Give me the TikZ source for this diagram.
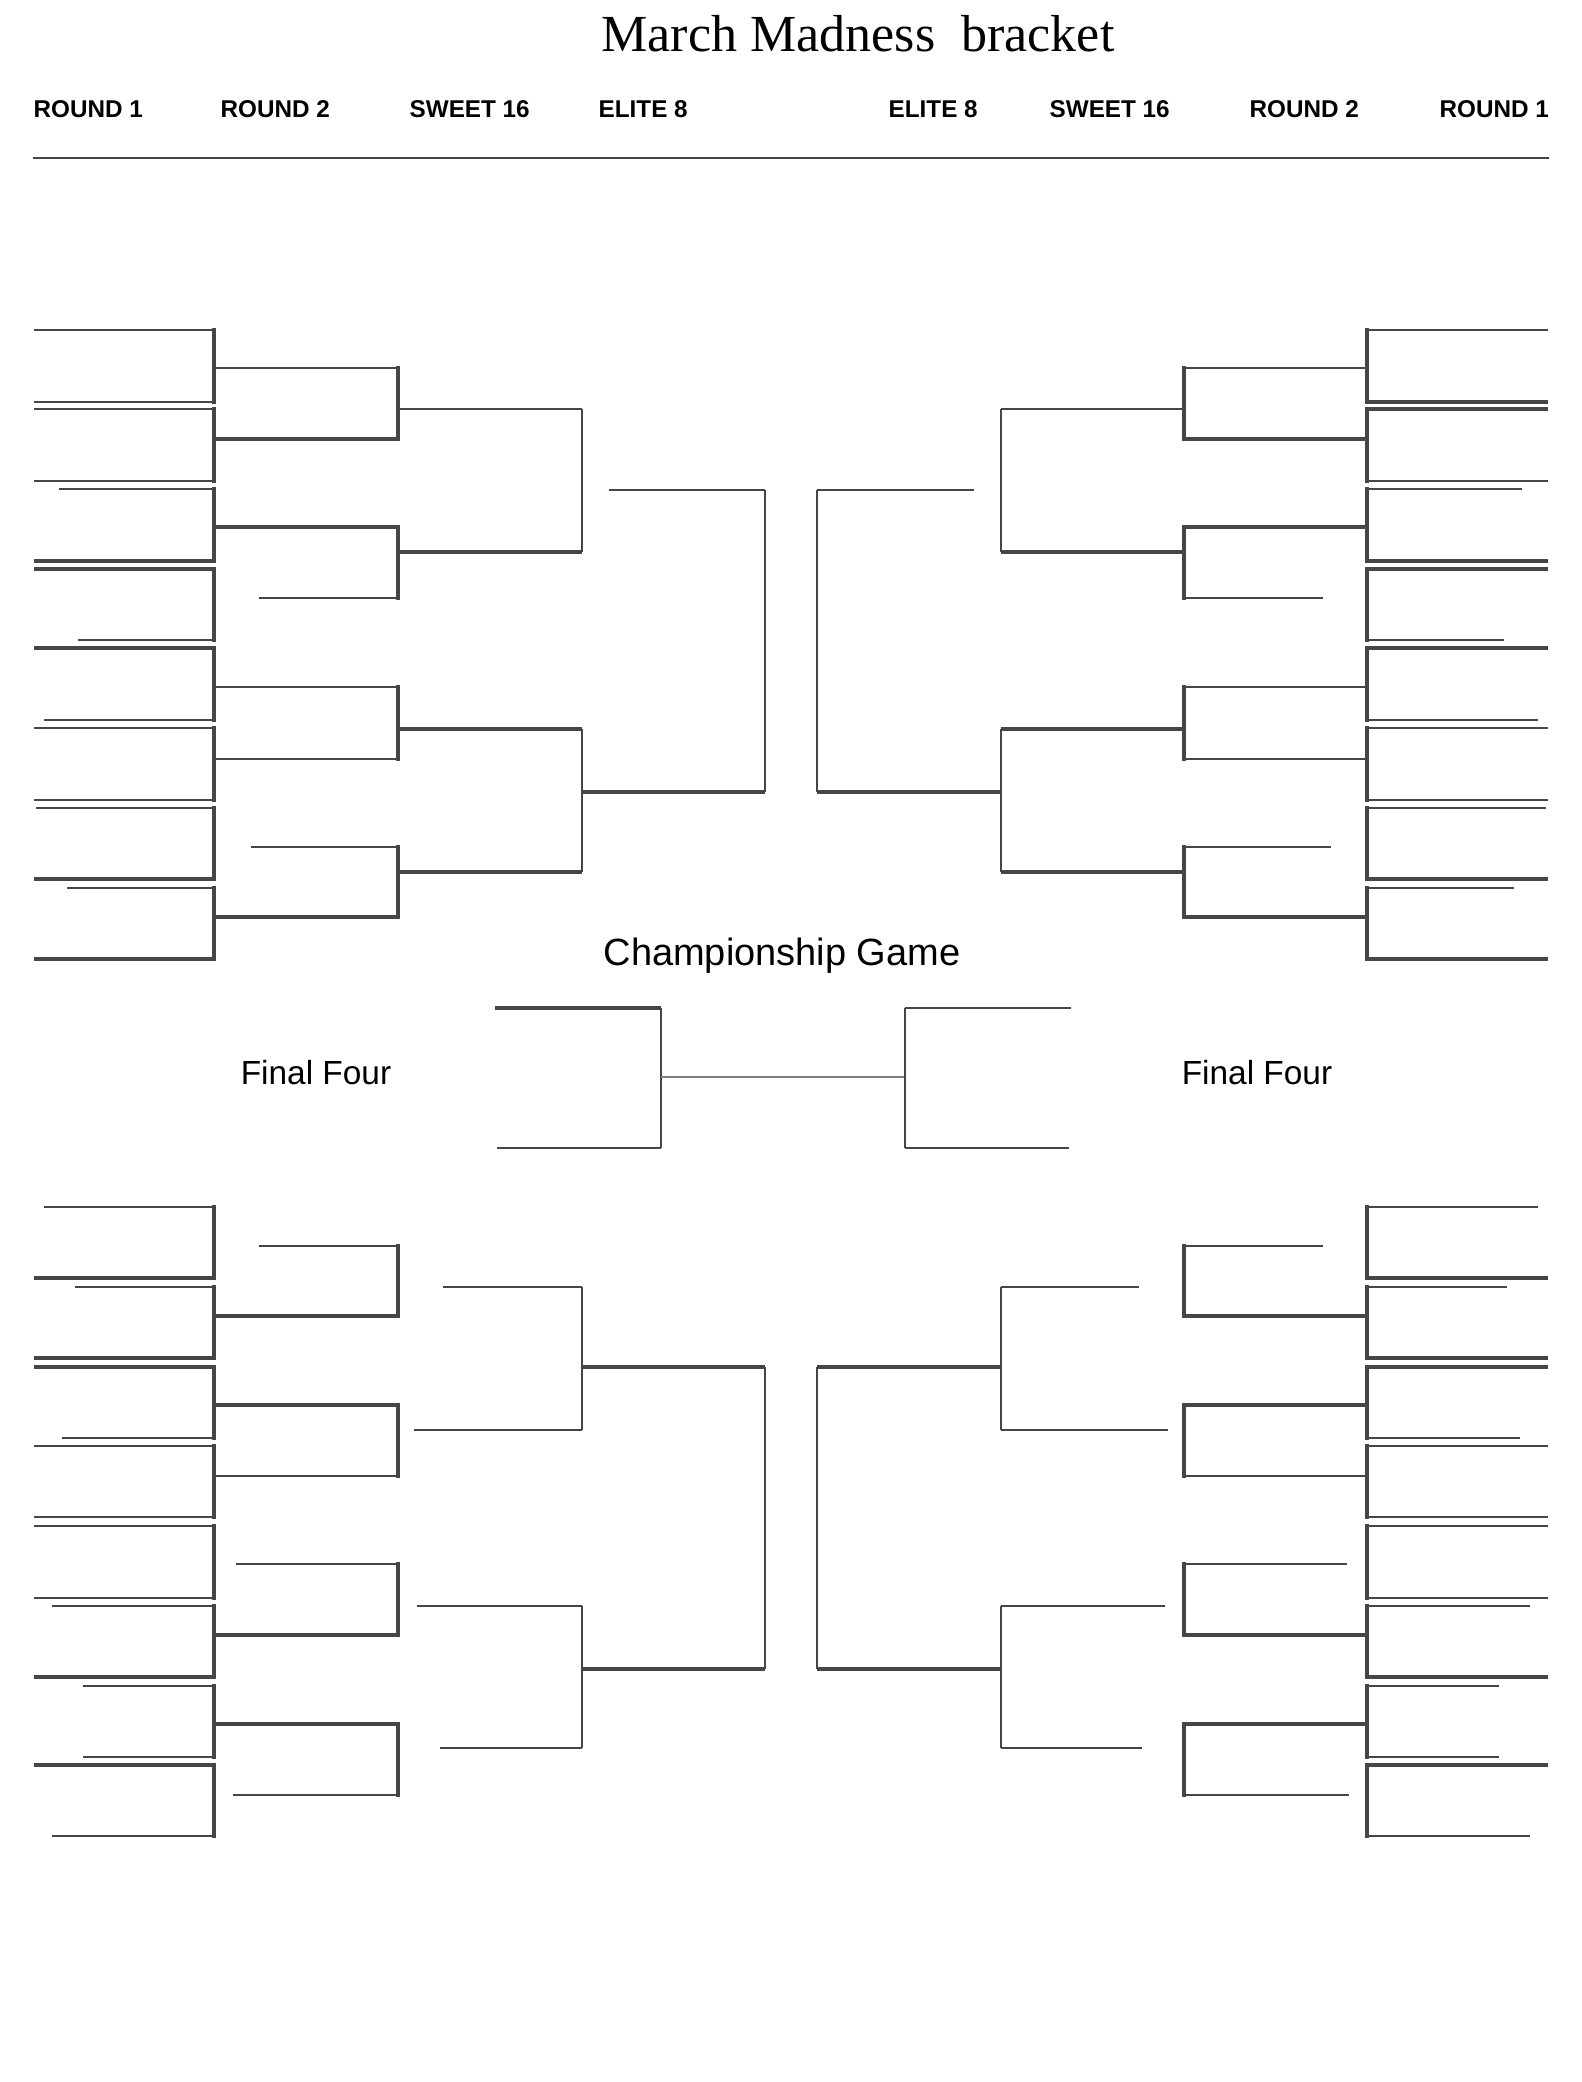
\documentclass[tikz,border=0pt]{standalone}
\usepackage{fontspec}
\usepackage{tikz}
\usepackage{xcolor}
\setmainfont{Liberation Serif}
\newfontfamily\hdfont{Liberation Sans}
\definecolor{brk}{HTML}{464646}

\begin{document}
\begin{tikzpicture}[x=0.01cm, y=-0.01cm,
	thn/.style={draw=brk, line width=0.5pt},
	thk/.style={draw=brk, line width=1.05pt},
	vrt/.style={draw=brk, line width=1.05pt, line cap=rect},
	lbl/.style={inner sep=0pt, text=black}]
		\useasboundingbox (0,0) rectangle (1582,2082);

		\node[lbl, anchor=base] (title) at (858,52) {\fontsize{14.8}{17}\selectfont March Madness~ bracket};
		\node[lbl, anchor=base west] (hdA) at (33,118) {\hdfont\bfseries\fontsize{6.9}{8}\selectfont ROUND 1};
		\node[lbl, anchor=base west] (hdB) at (220,118) {\hdfont\bfseries\fontsize{6.9}{8}\selectfont ROUND 2};
		\node[lbl, anchor=base west] (hdC) at (409,118) {\hdfont\bfseries\fontsize{6.9}{8}\selectfont SWEET 16};
		\node[lbl, anchor=base west] (hdD) at (598,118) {\hdfont\bfseries\fontsize{6.9}{8}\selectfont ELITE 8};
		\node[lbl, anchor=base west] (hdE) at (888,118) {\hdfont\bfseries\fontsize{6.9}{8}\selectfont ELITE 8};
		\node[lbl, anchor=base west] (hdF) at (1049,118) {\hdfont\bfseries\fontsize{6.9}{8}\selectfont SWEET 16};
		\node[lbl, anchor=base west] (hdG) at (1249,118) {\hdfont\bfseries\fontsize{6.9}{8}\selectfont ROUND 2};
		\node[lbl, anchor=base west] (hdH) at (1439,118) {\hdfont\bfseries\fontsize{6.9}{8}\selectfont ROUND 1};
		\draw[-, draw=brk, line width=0.7pt](33,158)--(1549,158) ;

		\draw[-, thn](34,330)--(214,330) ;
		\draw[-, thn](34,402)--(214,402) ;
		\draw[-, thn](34,409)--(214,409) ;
		\draw[-, thn](34,481)--(214,481) ;
		\draw[-, thn](59,489)--(214,489) ;
		\draw[-, thk](34,561)--(214,561) ;
		\draw[-, thk](34,569)--(214,569) ;
		\draw[-, thn](78,640)--(214,640) ;
		\draw[-, thk](34,648)--(214,648) ;
		\draw[-, thn](44,720)--(214,720) ;
		\draw[-, thn](34,728)--(214,728) ;
		\draw[-, thn](34,800)--(214,800) ;
		\draw[-, thn](36,808)--(214,808) ;
		\draw[-, thk](34,879)--(214,879) ;
		\draw[-, thn](67,888)--(214,888) ;
		\draw[-, thk](34,959)--(214,959) ;
		\draw[-, vrt](214,330)--(214,402) ;
		\draw[-, vrt](214,409)--(214,481) ;
		\draw[-, vrt](214,489)--(214,561) ;
		\draw[-, vrt](214,569)--(214,640) ;
		\draw[-, vrt](214,648)--(214,720) ;
		\draw[-, vrt](214,728)--(214,800) ;
		\draw[-, vrt](214,808)--(214,879) ;
		\draw[-, vrt](214,888)--(214,959) ;
		\draw[-, thn](214,368)--(398,368) ;
		\draw[-, thk](214,439)--(398,439) ;
		\draw[-, thk](214,527)--(398,527) ;
		\draw[-, thn](259,598)--(398,598) ;
		\draw[-, thn](214,687)--(398,687) ;
		\draw[-, thn](214,759)--(398,759) ;
		\draw[-, thn](251,847)--(398,847) ;
		\draw[-, thk](214,917)--(398,917) ;
		\draw[-, vrt](398,368)--(398,439) ;
		\draw[-, vrt](398,527)--(398,598) ;
		\draw[-, vrt](398,687)--(398,759) ;
		\draw[-, vrt](398,847)--(398,917) ;
		\draw[-, thn](398,409)--(582,409) ;
		\draw[-, thk](398,552)--(582,552) ;
		\draw[-, thk](398,729)--(582,729) ;
		\draw[-, thk](398,872)--(582,872) ;
		\draw[-, thn](582,409)--(582,552) ;
		\draw[-, thn](582,729)--(582,872) ;
		\draw[-, thn](609,490)--(765,490) ;
		\draw[-, thk](582,792)--(765,792) ;
		\draw[-, thn](765,490)--(765,792) ;

		\draw[-, thn](1367,330)--(1548,330) ;
		\draw[-, thk](1367,402)--(1548,402) ;
		\draw[-, thk](1367,409)--(1548,409) ;
		\draw[-, thn](1367,481)--(1548,481) ;
		\draw[-, thn](1367,489)--(1522,489) ;
		\draw[-, thk](1367,561)--(1548,561) ;
		\draw[-, thk](1367,569)--(1548,569) ;
		\draw[-, thn](1367,640)--(1504,640) ;
		\draw[-, thk](1367,648)--(1548,648) ;
		\draw[-, thn](1367,720)--(1538,720) ;
		\draw[-, thn](1367,728)--(1548,728) ;
		\draw[-, thn](1367,800)--(1548,800) ;
		\draw[-, thn](1367,808)--(1546,808) ;
		\draw[-, thk](1367,879)--(1548,879) ;
		\draw[-, thn](1367,888)--(1514,888) ;
		\draw[-, thk](1367,959)--(1548,959) ;
		\draw[-, vrt](1367,330)--(1367,402) ;
		\draw[-, vrt](1367,409)--(1367,481) ;
		\draw[-, vrt](1367,489)--(1367,561) ;
		\draw[-, vrt](1367,569)--(1367,640) ;
		\draw[-, vrt](1367,648)--(1367,720) ;
		\draw[-, vrt](1367,728)--(1367,800) ;
		\draw[-, vrt](1367,808)--(1367,879) ;
		\draw[-, vrt](1367,888)--(1367,959) ;
		\draw[-, thn](1184,368)--(1367,368) ;
		\draw[-, thk](1184,439)--(1367,439) ;
		\draw[-, thk](1184,527)--(1367,527) ;
		\draw[-, thn](1184,598)--(1323,598) ;
		\draw[-, thn](1184,687)--(1367,687) ;
		\draw[-, thn](1184,759)--(1367,759) ;
		\draw[-, thn](1184,847)--(1331,847) ;
		\draw[-, thk](1184,917)--(1367,917) ;
		\draw[-, vrt](1184,368)--(1184,439) ;
		\draw[-, vrt](1184,527)--(1184,598) ;
		\draw[-, vrt](1184,687)--(1184,759) ;
		\draw[-, vrt](1184,847)--(1184,917) ;
		\draw[-, thn](1001,409)--(1184,409) ;
		\draw[-, thk](1001,552)--(1184,552) ;
		\draw[-, thk](1001,729)--(1184,729) ;
		\draw[-, thk](1001,872)--(1184,872) ;
		\draw[-, thn](1001,409)--(1001,552) ;
		\draw[-, thn](1001,729)--(1001,872) ;
		\draw[-, thn](817,490)--(974,490) ;
		\draw[-, thk](817,792)--(1001,792) ;
		\draw[-, thn](817,490)--(817,792) ;

		\node[lbl, anchor=base] (champ) at (782,965) {\hdfont\fontsize{10.8}{13}\selectfont Championship Game};
		\node[lbl, anchor=base] (ffL) at (316,1084) {\hdfont\fontsize{9.5}{12}\selectfont Final Four};
		\node[lbl, anchor=base] (ffR) at (1257,1084) {\hdfont\fontsize{9.5}{12}\selectfont Final Four};
		\draw[-, draw=brk, line width=1.2pt](495,1008)--(661,1008) ;
		\draw[-, draw=brk, line width=0.6pt](497,1148)--(661,1148) ;
		\draw[-, thn](661,1008)--(661,1148) ;
		\draw[-, draw=gray, line width=0.35pt](661,1077)--(905,1077) ;
		\draw[-, thn](905,1008)--(905,1148) ;
		\draw[-, draw=brk, line width=0.6pt](905,1008)--(1071,1008) ;
		\draw[-, draw=brk, line width=0.6pt](905,1148)--(1069,1148) ;

		\draw[-, thn](44,1207)--(214,1207) ;
		\draw[-, thk](34,1278)--(214,1278) ;
		\draw[-, thn](75,1287)--(214,1287) ;
		\draw[-, thk](34,1358)--(214,1358) ;
		\draw[-, thk](34,1367)--(214,1367) ;
		\draw[-, thn](62,1438)--(214,1438) ;
		\draw[-, thn](34,1446)--(214,1446) ;
		\draw[-, thn](34,1517)--(214,1517) ;
		\draw[-, thn](34,1526)--(214,1526) ;
		\draw[-, thn](34,1598)--(214,1598) ;
		\draw[-, thn](52,1606)--(214,1606) ;
		\draw[-, thk](34,1677)--(214,1677) ;
		\draw[-, thn](83,1686)--(214,1686) ;
		\draw[-, thn](83,1757)--(214,1757) ;
		\draw[-, thk](34,1765)--(214,1765) ;
		\draw[-, thn](52,1836)--(214,1836) ;
		\draw[-, vrt](214,1207)--(214,1278) ;
		\draw[-, vrt](214,1287)--(214,1358) ;
		\draw[-, vrt](214,1367)--(214,1438) ;
		\draw[-, vrt](214,1446)--(214,1517) ;
		\draw[-, vrt](214,1526)--(214,1598) ;
		\draw[-, vrt](214,1606)--(214,1677) ;
		\draw[-, vrt](214,1686)--(214,1757) ;
		\draw[-, vrt](214,1765)--(214,1836) ;
		\draw[-, thn](259,1246)--(398,1246) ;
		\draw[-, thk](214,1316)--(398,1316) ;
		\draw[-, thk](214,1405)--(398,1405) ;
		\draw[-, thn](214,1476)--(398,1476) ;
		\draw[-, thn](236,1564)--(398,1564) ;
		\draw[-, thk](214,1635)--(398,1635) ;
		\draw[-, thk](214,1724)--(398,1724) ;
		\draw[-, thn](233,1795)--(398,1795) ;
		\draw[-, vrt](398,1246)--(398,1316) ;
		\draw[-, vrt](398,1405)--(398,1476) ;
		\draw[-, vrt](398,1564)--(398,1635) ;
		\draw[-, vrt](398,1724)--(398,1795) ;
		\draw[-, thn](443,1287)--(582,1287) ;
		\draw[-, thn](414,1430)--(582,1430) ;
		\draw[-, thn](417,1606)--(582,1606) ;
		\draw[-, thn](440,1748)--(582,1748) ;
		\draw[-, thn](582,1287)--(582,1430) ;
		\draw[-, thn](582,1606)--(582,1748) ;
		\draw[-, thk](582,1367)--(765,1367) ;
		\draw[-, thk](582,1669)--(765,1669) ;
		\draw[-, thn](765,1367)--(765,1669) ;

		\draw[-, thn](1367,1207)--(1538,1207) ;
		\draw[-, thk](1367,1278)--(1548,1278) ;
		\draw[-, thn](1367,1287)--(1507,1287) ;
		\draw[-, thk](1367,1358)--(1548,1358) ;
		\draw[-, thk](1367,1367)--(1548,1367) ;
		\draw[-, thn](1367,1438)--(1520,1438) ;
		\draw[-, thn](1367,1446)--(1548,1446) ;
		\draw[-, thn](1367,1517)--(1548,1517) ;
		\draw[-, thn](1367,1526)--(1548,1526) ;
		\draw[-, thn](1367,1598)--(1548,1598) ;
		\draw[-, thn](1367,1606)--(1530,1606) ;
		\draw[-, thk](1367,1677)--(1548,1677) ;
		\draw[-, thn](1367,1686)--(1499,1686) ;
		\draw[-, thn](1367,1757)--(1499,1757) ;
		\draw[-, thk](1367,1765)--(1548,1765) ;
		\draw[-, thn](1367,1836)--(1530,1836) ;
		\draw[-, vrt](1367,1207)--(1367,1278) ;
		\draw[-, vrt](1367,1287)--(1367,1358) ;
		\draw[-, vrt](1367,1367)--(1367,1438) ;
		\draw[-, vrt](1367,1446)--(1367,1517) ;
		\draw[-, vrt](1367,1526)--(1367,1598) ;
		\draw[-, vrt](1367,1606)--(1367,1677) ;
		\draw[-, vrt](1367,1686)--(1367,1757) ;
		\draw[-, vrt](1367,1765)--(1367,1836) ;
		\draw[-, thn](1184,1246)--(1323,1246) ;
		\draw[-, thk](1184,1316)--(1367,1316) ;
		\draw[-, thk](1184,1405)--(1367,1405) ;
		\draw[-, thn](1184,1476)--(1367,1476) ;
		\draw[-, thn](1184,1564)--(1347,1564) ;
		\draw[-, thk](1184,1635)--(1367,1635) ;
		\draw[-, thk](1184,1724)--(1367,1724) ;
		\draw[-, thn](1184,1795)--(1349,1795) ;
		\draw[-, vrt](1184,1246)--(1184,1316) ;
		\draw[-, vrt](1184,1405)--(1184,1476) ;
		\draw[-, vrt](1184,1564)--(1184,1635) ;
		\draw[-, vrt](1184,1724)--(1184,1795) ;
		\draw[-, thn](1001,1287)--(1139,1287) ;
		\draw[-, thn](1001,1430)--(1168,1430) ;
		\draw[-, thn](1001,1606)--(1165,1606) ;
		\draw[-, thn](1001,1748)--(1142,1748) ;
		\draw[-, thn](1001,1287)--(1001,1430) ;
		\draw[-, thn](1001,1606)--(1001,1748) ;
		\draw[-, thk](817,1367)--(1001,1367) ;
		\draw[-, thk](817,1669)--(1001,1669) ;
		\draw[-, thn](817,1367)--(817,1669) ;

	\end{tikzpicture}
\end{document}
